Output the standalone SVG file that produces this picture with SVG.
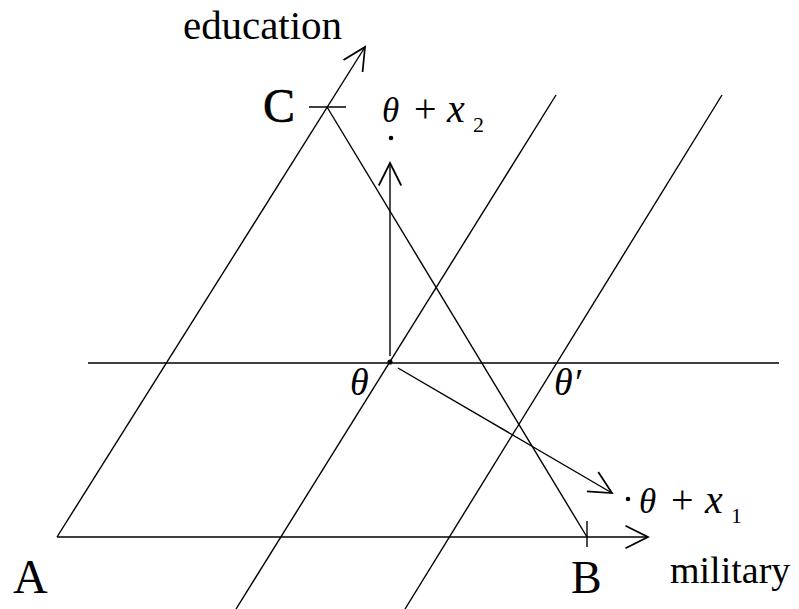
<svg xmlns="http://www.w3.org/2000/svg" width="799" height="609" viewBox="0 0 799 609">
<defs>
<marker id="arr" markerUnits="userSpaceOnUse" markerWidth="30" markerHeight="30" refX="0" refY="0" viewBox="-20 -12 22 24" orient="auto" overflow="visible">
<path d="M-18,-9 L0,0 L-18,9" fill="none" stroke="#000" stroke-width="1.4"/>
</marker>
</defs>
<style>
.ln{stroke:#000;stroke-width:1.4;fill:none}
.lab{font-family:"Liberation Serif","Times New Roman",serif;fill:#000}
.it{font-family:"Liberation Serif","Times New Roman",serif;font-style:italic;fill:#000}
.dot{fill:#000}
</style>
<rect width="799" height="609" fill="#fff"/>
<g id="connectors">
<line class="ln" x1="57" y1="537" x2="648" y2="537" marker-end="url(#arr)"/>
<line class="ln" x1="57" y1="537" x2="365" y2="47" marker-end="url(#arr)"/>
<line class="ln" x1="327" y1="107" x2="587" y2="537"/>
<line class="ln" x1="309" y1="107" x2="346" y2="107"/>
<line class="ln" x1="587" y1="521" x2="587" y2="547"/>
<line class="ln" x1="88" y1="363" x2="779" y2="363"/>
<line class="ln" x1="236" y1="609" x2="556" y2="95"/>
<line class="ln" x1="405" y1="609" x2="722" y2="95"/>
<line class="ln" x1="390" y1="356" x2="390" y2="163" marker-end="url(#arr)"/>
<line class="ln" x1="398" y1="368" x2="612" y2="493" marker-end="url(#arr)"/>
</g>
<g id="axis-education"><text class="lab" x="183" y="39" font-size="41" textLength="159">education</text></g>
<g id="axis-military"><text class="lab" x="670" y="583" font-size="38">military</text></g>
<g id="vertex-A"><text class="lab" x="13" y="593" font-size="48">A</text></g>
<g id="vertex-B"><text class="lab" x="571" y="593" font-size="46">B</text></g>
<g id="vertex-C"><text class="lab" x="263" y="122" font-size="48" stroke="#000" stroke-width="0.6">C</text></g>
<g id="theta">
<circle class="dot" cx="390" cy="362" r="2.6"/>
<text class="it" x="350" y="395" font-size="38">θ</text>
</g>
<g id="theta-prime"><text class="it" x="554" y="395" font-size="38">θ′</text></g>
<g id="theta-x2">
<circle class="dot" cx="391" cy="138" r="2.3"/>
<text class="it" x="382" y="122" font-size="35">θ</text>
<text class="lab" x="414" y="122" font-size="40">+</text>
<text class="it" x="447" y="122" font-size="40">x</text>
<text class="lab" x="473" y="132" font-size="22">2</text>
</g>
<g id="theta-x1">
<circle class="dot" cx="628" cy="499" r="2.3"/>
<text class="it" x="639" y="513" font-size="35">θ</text>
<text class="lab" x="671" y="513" font-size="40">+</text>
<text class="it" x="705" y="513" font-size="40">x</text>
<text class="lab" x="731" y="523" font-size="22">1</text>
</g>
</svg>
